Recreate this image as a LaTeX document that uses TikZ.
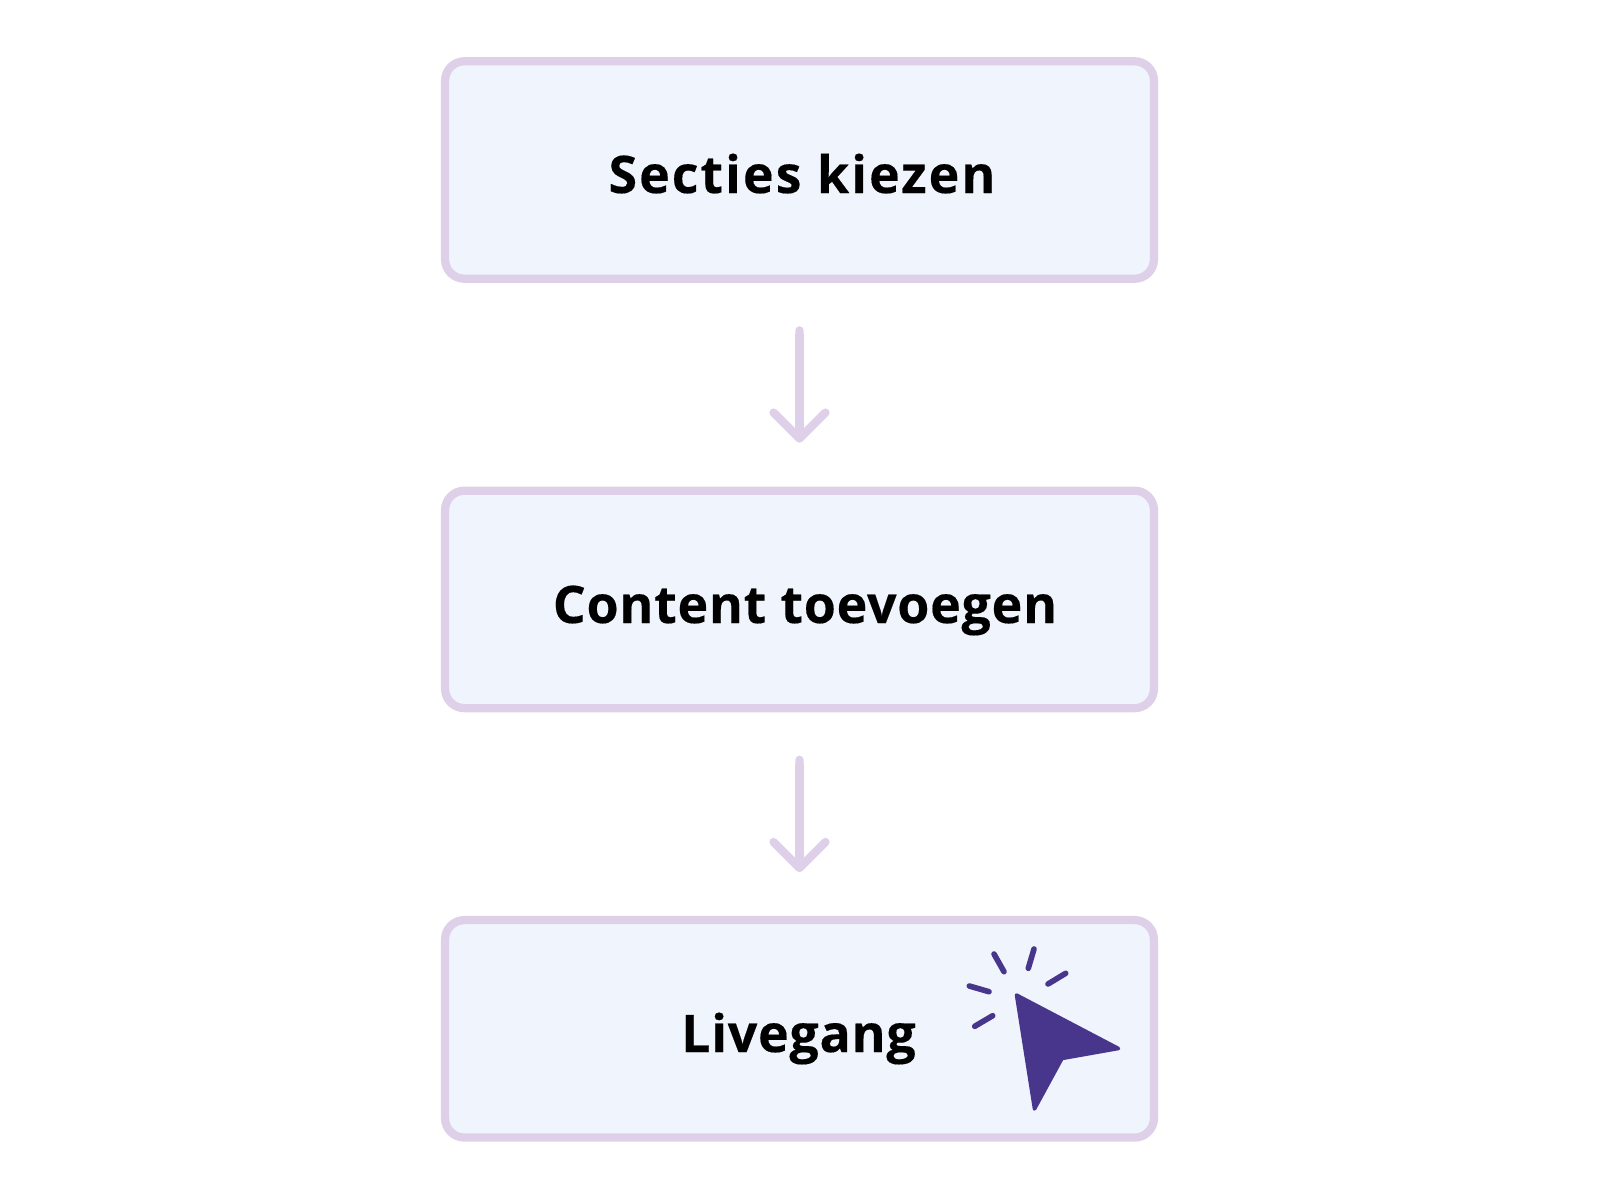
\documentclass[tikz,border=0pt]{standalone}
\usepackage{fontspec}
\setmainfont[BoldFeatures={LetterSpace=1.5,FakeBold=0.3}]{Open Sans}
\newfontfamily\widerfont[BoldFeatures={LetterSpace=4,FakeBold=0.3}]{Open Sans}
\usetikzlibrary{positioning, arrows.meta}
\definecolor{boxline}{HTML}{DFD0E9}
\definecolor{boxfill}{HTML}{F0F4FC}
\definecolor{cursorpurple}{HTML}{48358C}
\tikzset{
    flowbox/.style={draw=boxline, fill=boxfill, line width=4.7pt, rounded corners=11pt, minimum width=14.18cm, minimum height=4.35cm, inner sep=0pt, outer sep=0pt},
    boxtext/.style={anchor=base, font=\fontsize{29.5}{34}\selectfont\bfseries, text=black, inner sep=0pt},
    flowarrow/.style={draw=boxline, line width=4.7pt, line join=round, {Round Cap[]}-{Straight Barb[length=0.52cm, width=1.04cm, round]}, shorten <=0.95cm, shorten >=0.96cm},
    tick/.style={draw=cursorpurple, line width=3.2pt, line cap=round}
}
\begin{document}
\begin{tikzpicture}[x=0.02cm, y=-0.02cm, node distance=8.59cm, on grid]
    \useasboundingbox (0,0) rectangle (1600,1200);
    % Boxes
    \node[flowbox] (secties) at (799.5,170) {};
    \node[flowbox, below=of secties] (content) {};
    \node[flowbox, below=of content] (livegang) {};
    % Box labels
    \node[boxtext] (sectiestext) at (802,193) {\widerfont\bfseries Secties kiezen};
    \node[boxtext] (contenttext) at (805,623) {Content toevoegen};
    \node[boxtext] (livegangtext) at (798.5,1052) {Livegang};
    % Arrows
    \draw[flowarrow] (secties.south) -- (content.north);
    \draw[flowarrow] (content.south) -- (livegang.north);
    % Cursor
    \fill[cursorpurple, draw=cursorpurple, line width=2pt, line join=round] (1016.5,995) -- (1118.5,1048.5) -- (1062,1058.5) -- (1034.5,1109) -- cycle;
    \draw[tick] (994,954) -- (1004,971.7);
    \draw[tick] (1034,949) -- (1028.3,968.3);
    \draw[tick] (1065.7,973.3) -- (1048,984);
    \draw[tick] (969.3,986) -- (989,991.7);
    \draw[tick] (992.7,1015.7) -- (974.7,1026.3);
\end{tikzpicture}
\end{document}
